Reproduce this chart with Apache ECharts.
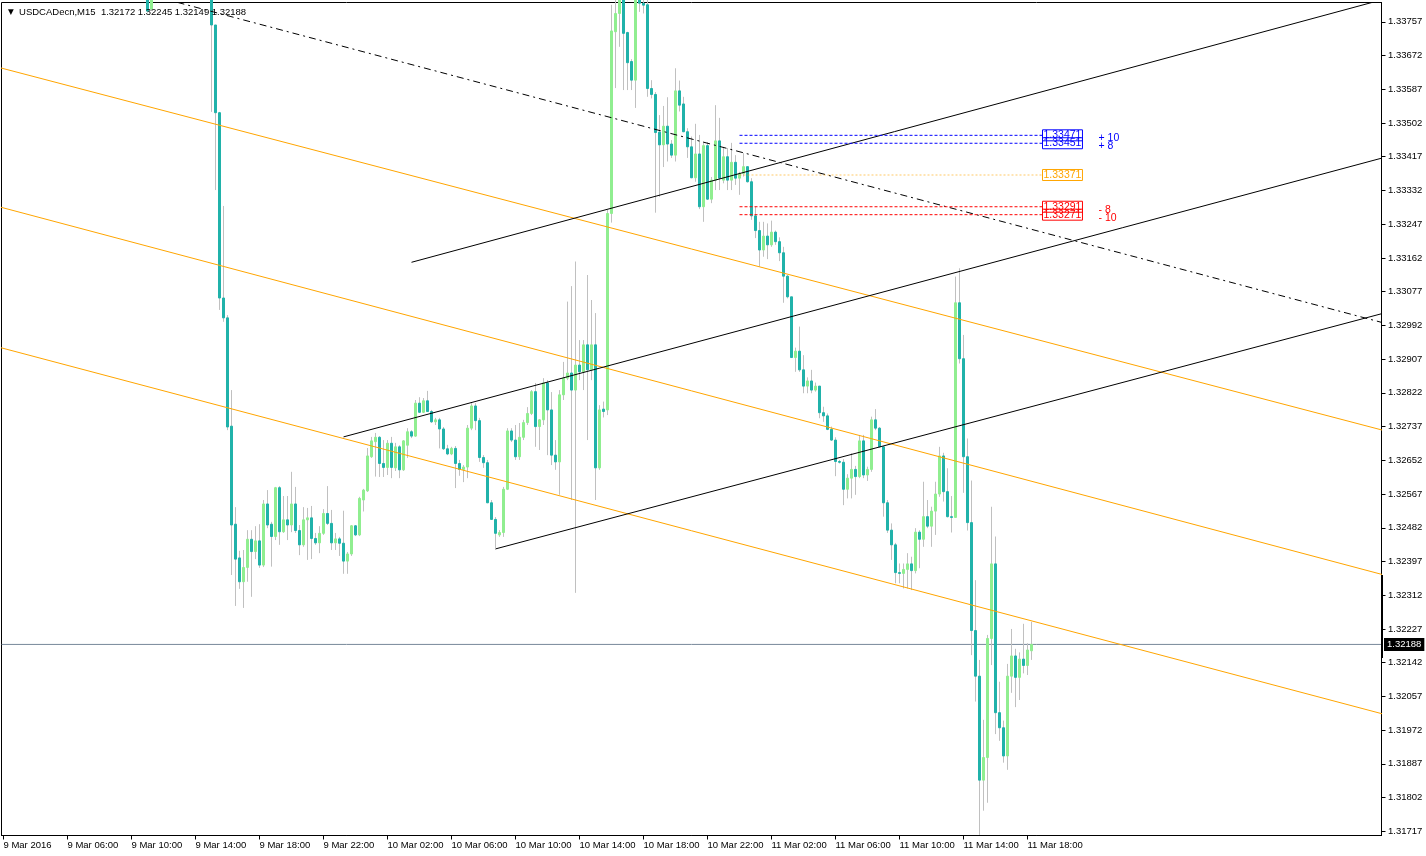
<!DOCTYPE html>
<html><head><meta charset="utf-8">
<script src="https://cdn.jsdelivr.net/npm/echarts@6/dist/echarts.min.js"></script>
<style>html,body{margin:0;padding:0;background:#fff;}#c{width:1426px;height:856px;}</style>
</head><body><div id="c"></div>
<script>
const symbol = 'USDCADecn,M15';
const slotCount = 345;          // bar slots on the time axis (incl. chart shift)
const firstBar = 36;            // index of first candle in the candles list
// [open, high, low, close]; null = bar above the visible price range
const candles = [
[1.33832,1.33845,1.33780,1.33784],[1.33789,1.33850,1.33785,1.33832],
null,null,null,null,null,null,null,null,null,null,null,null,null,null,
[1.33825,1.33840,1.33530,1.33749],[1.33749,1.33749,1.33333,1.33528],[1.33528,1.33530,1.33031,1.33061],[1.33061,1.33293,1.33001,1.33011],
[1.33011,1.33018,1.32728,1.32736],[1.32738,1.32829,1.32363,1.32489],[1.32491,1.32534,1.32285,1.32403],[1.32406,1.32424,1.32328,1.32346],
[1.32346,1.32426,1.32280,1.32382],[1.32382,1.32476,1.32346,1.32453],[1.32453,1.32476,1.32308,1.32422],[1.32422,1.32486,1.32403,1.32449],
[1.32449,1.32491,1.32381,1.32388],[1.32388,1.32552,1.32383,1.32542],[1.32542,1.32577,1.32481,1.32489],[1.32491,1.32497,1.32384,1.32460],
[1.32460,1.32585,1.32451,1.32583],[1.32583,1.32587,1.32439,1.32472],[1.32472,1.32562,1.32469,1.32502],[1.32502,1.32562,1.32451,1.32489],
[1.32489,1.32623,1.32471,1.32542],[1.32542,1.32585,1.32469,1.32475],[1.32475,1.32489,1.32413,1.32439],[1.32439,1.32534,1.32434,1.32502],
[1.32502,1.32532,1.32401,1.32507],[1.32507,1.32537,1.32403,1.32455],[1.32455,1.32469,1.32439,1.32444],[1.32444,1.32486,1.32418,1.32468],
[1.32468,1.32529,1.32464,1.32518],[1.32518,1.32587,1.32489,1.32493],[1.32493,1.32527,1.32426,1.32444],[1.32444,1.32469,1.32426,1.32454],
[1.32454,1.32459,1.32411,1.32443],[1.32443,1.32525,1.32366,1.32398],[1.32398,1.32421,1.32366,1.32416],[1.32416,1.32489,1.32411,1.32487],
[1.32487,1.32489,1.32461,1.32464],[1.32464,1.32560,1.32461,1.32556],[1.32552,1.32580,1.32523,1.32577],[1.32575,1.32683,1.32572,1.32663],
[1.32661,1.32711,1.32658,1.32701],[1.32699,1.32721,1.32611,1.32710],[1.32710,1.32713,1.32610,1.32644],[1.32644,1.32703,1.32610,1.32634],
[1.32634,1.32703,1.32615,1.32695],[1.32695,1.32711,1.32607,1.32634],[1.32633,1.32696,1.32625,1.32686],[1.32686,1.32690,1.32607,1.32628],
[1.32628,1.32703,1.32625,1.32701],[1.32690,1.32733,1.32658,1.32724],[1.32724,1.32728,1.32708,1.32713],[1.32713,1.32804,1.32711,1.32796],
[1.32796,1.32811,1.32771,1.32773],[1.32773,1.32809,1.32771,1.32802],[1.32802,1.32827,1.32774,1.32775],[1.32775,1.32779,1.32746,1.32749],
[1.32749,1.32759,1.32741,1.32754],[1.32754,1.32759,1.32682,1.32731],[1.32731,1.32736,1.32678,1.32681],[1.32681,1.32691,1.32665,1.32668],
[1.32668,1.32686,1.32665,1.32682],[1.32682,1.32688,1.32582,1.32644],[1.32644,1.32653,1.32613,1.32629],[1.32629,1.32640,1.32597,1.32635],
[1.32635,1.32741,1.32607,1.32733],[1.32733,1.32796,1.32728,1.32789],[1.32789,1.32796,1.32728,1.32752],[1.32752,1.32759,1.32648,1.32659],
[1.32659,1.32665,1.32633,1.32646],[1.32646,1.32653,1.32544,1.32545],[1.32545,1.32552,1.32502,1.32503],[1.32503,1.32509,1.32426,1.32468],
[1.32464,1.32476,1.32459,1.32470],[1.32470,1.32585,1.32459,1.32579],[1.32579,1.32733,1.32577,1.32726],[1.32726,1.32733,1.32698,1.32703],
[1.32703,1.32741,1.32653,1.32661],[1.32661,1.32746,1.32653,1.32710],[1.32710,1.32754,1.32703,1.32747],[1.32747,1.32786,1.32741,1.32770],
[1.32770,1.32829,1.32766,1.32825],[1.32825,1.32847,1.32686,1.32737],[1.32737,1.32756,1.32678,1.32754],[1.32754,1.32859,1.32741,1.32847],
[1.32847,1.32854,1.32665,1.32779],[1.32779,1.32824,1.32640,1.32665],[1.32665,1.32703,1.32628,1.32648],[1.32648,1.32829,1.32565,1.32817],
[1.32817,1.32900,1.32804,1.32859],[1.32859,1.33052,1.32854,1.32872],[1.32872,1.33091,1.32552,1.32829],[1.32829,1.33153,1.32318,1.32892],
[1.32892,1.32955,1.32854,1.32875],[1.32875,1.32955,1.32829,1.32943],[1.32943,1.33119,1.32703,1.32880],[1.32880,1.33056,1.32854,1.32943],
[1.32943,1.33023,1.32552,1.32633],[1.32633,1.32791,1.32628,1.32779],[1.32781,1.32800,1.32760,1.32775],[1.32779,1.33283,1.32766,1.33274],
[1.33274,1.33800,1.33251,1.33734],[1.33732,1.33825,1.33590,1.33778],[1.33778,1.33840,1.33694,1.33825],[1.33825,1.33840,1.33585,1.33728],
[1.33730,1.33732,1.33585,1.33654],[1.33657,1.33663,1.33585,1.33610],[1.33610,1.33845,1.33540,1.33825],[1.33825,1.33840,1.33782,1.33804],
[1.33804,1.33820,1.33778,1.33799],[1.33800,1.33815,1.33568,1.33589],[1.33589,1.33610,1.33564,1.33574],[1.33574,1.33580,1.33276,1.33478],
[1.33479,1.33522,1.33316,1.33447],[1.33447,1.33545,1.33391,1.33494],[1.33494,1.33567,1.33405,1.33449],[1.33449,1.33459,1.33414,1.33421],
[1.33421,1.33640,1.33405,1.33583],[1.33583,1.33609,1.33531,1.33547],[1.33550,1.33568,1.33479,1.33480],[1.33480,1.33489,1.33414,1.33442],
[1.33442,1.33468,1.33363,1.33364],[1.33364,1.33500,1.33354,1.33424],[1.33424,1.33472,1.33285,1.33291],[1.33291,1.33455,1.33253,1.33445],
[1.33445,1.33454,1.33308,1.33310],[1.33310,1.33366,1.33300,1.33358],[1.33358,1.33547,1.33333,1.33457],[1.33457,1.33515,1.33333,1.33363],
[1.33358,1.33442,1.33350,1.33417],[1.33417,1.33439,1.33333,1.33358],[1.33358,1.33452,1.33333,1.33403],[1.33403,1.33421,1.33346,1.33363],
[1.33363,1.33379,1.33321,1.33375],[1.33375,1.33426,1.33367,1.33392],[1.33392,1.33392,1.33352,1.33354],[1.33354,1.33363,1.33258,1.33268],
[1.33268,1.33291,1.33212,1.33231],[1.33231,1.33253,1.33140,1.33182],[1.33182,1.33253,1.33165,1.33217],[1.33217,1.33249,1.33159,1.33195],
[1.33195,1.33256,1.33190,1.33227],[1.33227,1.33231,1.33195,1.33203],[1.33203,1.33214,1.33154,1.33175],[1.33175,1.33190,1.33049,1.33116],
[1.33116,1.33119,1.33060,1.33064],[1.33064,1.33064,1.32910,1.32911],[1.32911,1.32936,1.32875,1.32927],[1.32927,1.32989,1.32875,1.32880],
[1.32880,1.32917,1.32821,1.32839],[1.32839,1.32861,1.32821,1.32852],[1.32852,1.32880,1.32821,1.32829],[1.32829,1.32848,1.32825,1.32839],
[1.32839,1.32839,1.32758,1.32772],[1.32772,1.32787,1.32749,1.32764],[1.32764,1.32770,1.32728,1.32730],[1.32730,1.32737,1.32701,1.32703],
[1.32703,1.32710,1.32612,1.32649],[1.32649,1.32653,1.32644,1.32647],[1.32647,1.32655,1.32539,1.32579],[1.32579,1.32617,1.32556,1.32607],
[1.32607,1.32670,1.32556,1.32629],[1.32629,1.32638,1.32565,1.32611],[1.32611,1.32716,1.32607,1.32701],[1.32701,1.32716,1.32607,1.32615],
[1.32615,1.32636,1.32600,1.32629],[1.32629,1.32762,1.32623,1.32754],[1.32754,1.32781,1.32728,1.32733],[1.32733,1.32736,1.32685,1.32686],
[1.32686,1.32688,1.32510,1.32545],[1.32545,1.32552,1.32469,1.32476],[1.32476,1.32493,1.32401,1.32439],[1.32439,1.32444,1.32342,1.32369],
[1.32369,1.32392,1.32342,1.32367],[1.32367,1.32392,1.32329,1.32377],[1.32377,1.32418,1.32329,1.32391],[1.32391,1.32409,1.32325,1.32374],
[1.32374,1.32481,1.32367,1.32471],[1.32471,1.32476,1.32380,1.32453],[1.32453,1.32598,1.32434,1.32510],[1.32510,1.32552,1.32481,1.32486],
[1.32486,1.32535,1.32434,1.32524],[1.32524,1.32598,1.32464,1.32567],[1.32567,1.32686,1.32560,1.32663],[1.32663,1.32671,1.32548,1.32573],
[1.32573,1.32632,1.32508,1.32510],[1.32510,1.32562,1.32470,1.32508],[1.32508,1.33115,1.32508,1.33049],[1.33049,1.33136,1.32896,1.32908],
[1.32908,1.32968,1.32570,1.32661],[1.32661,1.32707,1.32475,1.32495],[1.32495,1.32601,1.32161,1.32223],[1.32223,1.32350,1.32044,1.32108],
[1.32108,1.32149,1.31708,1.31846],[1.31846,1.31998,1.31769,1.31903],[1.31903,1.32212,1.31789,1.32203],[1.32203,1.32535,1.32136,1.32391],
[1.32391,1.32460,1.31962,1.32016],[1.32016,1.32094,1.31945,1.31978],[1.31978,1.31996,1.31890,1.31907],[1.31907,1.32139,1.31872,1.32108],
[1.32108,1.32227,1.32066,1.32159],[1.32159,1.32177,1.32030,1.32105],[1.32105,1.32168,1.32048,1.32151],[1.32151,1.32240,1.32115,1.32135],
[1.32135,1.32191,1.32111,1.32174],[1.32172,1.32245,1.32149,1.32188]
];
const timeLabels = ['9 Mar 2016','9 Mar 06:00','9 Mar 10:00','9 Mar 14:00','9 Mar 18:00','9 Mar 22:00',
  '10 Mar 02:00','10 Mar 06:00','10 Mar 10:00','10 Mar 14:00','10 Mar 18:00','10 Mar 22:00',
  '11 Mar 02:00','11 Mar 06:00','11 Mar 10:00','11 Mar 14:00','11 Mar 18:00'];
const barsPerLabel = 16;
const priceTicks = [1.33757,1.33672,1.33587,1.33502,1.33417,1.33332,1.33247,1.33162,1.33077,1.32992,
  1.32907,1.32822,1.32737,1.32652,1.32567,1.32482,1.32397,1.32312,1.32227,1.32142,1.32057,1.31972,
  1.31887,1.31802,1.31717];
const priceMin = 1.317065, priceMax = 1.338057;
const bidPrice = 1.32188;
// trend lines: [[barIndex, price], [barIndex, price]]
const orangeLines = [
  [[-0.75,1.33641],[344.75,1.32728]],
  [[-0.75,1.33290],[344.75,1.32364]],
  [[-0.75,1.32936],[344.75,1.32013]]
];
const blackLines = [
  [[102,1.33151],[344.75,1.33813]],
  [[85,1.32711],[344.75,1.33414]],
  [[123.1,1.32429],[344.75,1.33022]]
];
const dashDotLine = [[43.5,1.33806],[344.75,1.32999]];
const orderPrices = [1.33471,1.33451,1.33371,1.33291,1.33271];
const orderNotes = ['+ 10','+ 8','','- 8','- 10'];
const orderColors = ['#0000FF','#0000FF','#FFA500','#FF0000','#FF0000'];
const orderBars = [184, 259.75];
const axisMarkRange = [1.32363, 1.32154];   // dark marker on the price scale

const FONT = 'Liberation Sans, Arial, sans-serif';
const categories = Array.from({length: slotCount}, (_, i) => String(i));
const showLabel = (idx) => idx % barsPerLabel === 0 && idx / barsPerLabel < timeLabels.length;

const wickRows = [], bodyRows = [];
candles.forEach((c, k) => {
  if (!c) return;
  const i = firstBar + k;
  const [o, h, l, cl] = c;
  wickRows.push([i, o, cl, l, h]);
  bodyRows.push([i, o, cl, Math.min(o, cl), Math.max(o, cl)]);
});
const last = candles[candles.length - 1];

const lineSeries = (pts, color, type, opacity) => ({
  type: 'line', xAxisIndex: 1, yAxisIndex: 0, data: pts, symbol: 'none', silent: true, clip: true,
  lineStyle: {color, width: 1, type: type || 'solid', opacity: opacity == null ? 1 : opacity}, z: 5
});

const series = [
  {type: 'candlestick', xAxisIndex: 0, yAxisIndex: 0, data: wickRows, encode: {x: 0, y: [1,2,3,4]},
   barWidth: 1, clip: true, silent: true,
   itemStyle: {color: '#C0C0C0', color0: '#C0C0C0', borderColor: '#C0C0C0', borderColor0: '#C0C0C0', borderWidth: 1}, z: 2},
  {type: 'candlestick', xAxisIndex: 0, yAxisIndex: 0, data: bodyRows, encode: {x: 0, y: [1,2,3,4]},
   barWidth: 2, clip: true, silent: true,
   itemStyle: {color: '#90EE90', color0: '#20B2AA', borderColor: '#90EE90', borderColor0: '#20B2AA', borderWidth: 1}, z: 3}
];
orangeLines.forEach(l => series.push(lineSeries(l, '#FFA500')));
blackLines.forEach(l => series.push(lineSeries(l, '#000000')));
series.push(lineSeries(dashDotLine, '#000000', [7,4,2,4]));
// bid line
const bidSeries = lineSeries([[-0.5, bidPrice],[slotCount - 0.5, bidPrice]], '#778899');
bidSeries.z = 1;
bidSeries.endLabel = {show: true, distance: 2.5, formatter: () => bidPrice.toFixed(5),
  backgroundColor: '#000', color: '#fff', padding: [2,3,1,3], fontSize: 9.5, fontFamily: FONT};
series.push(bidSeries);
// marker on the price scale
const markSeries = lineSeries([[slotCount - 0.25, axisMarkRange[0]],[slotCount - 0.25, axisMarkRange[1]]], '#000000');
markSeries.clip = false;
markSeries.lineStyle.width = 3;
markSeries.z = 7;
series.push(markSeries);
// order levels
orderPrices.forEach((p, k) => {
  const col = orderColors[k];
  const s = lineSeries([[orderBars[0], p],[orderBars[1], p]], col, k === 2 ? [2,2] : [3,2], k === 2 ? 0.6 : 1);
  s.z = 6;
  s.endLabel = {show: true, distance: 0, formatter: () => p.toFixed(5),
    color: col, borderColor: col, borderWidth: 1, padding: [1,1,0,1], fontSize: 10.5, lineHeight: 10, fontFamily: FONT};
  series.push(s);
  if (orderNotes[k]) {
    const n = lineSeries([[orderBars[0], p],[orderBars[1], p]], col, 'solid', 0);
    n.z = 6;
    n.endLabel = {show: true, distance: 0, offset: [56, 3], formatter: () => orderNotes[k],
      color: col, fontSize: 10.5, fontFamily: FONT};
    series.push(n);
  }
});

const chart = echarts.init(document.getElementById('c'), null, {renderer: 'canvas'});
chart.setOption({
  animation: false,
  backgroundColor: '#ffffff',
  textStyle: {fontFamily: FONT},
  title: {
    text: '{t|▼}  ' + symbol + '  ' + last.map(v => v.toFixed(5)).join(' '),
    left: 3, top: 2,
    textStyle: {fontSize: 9.5, fontWeight: 'normal', color: '#000', fontFamily: FONT,
      rich: {t: {fontSize: 7.5, color: '#000', fontFamily: 'DejaVu Sans'}}}
  },
  grid: {left: 1.5, top: 2.5, width: slotCount * 4, height: 833, containLabel: false,
    show: true, borderColor: '#000', borderWidth: 1, backgroundColor: 'transparent'},
  xAxis: [
    {type: 'category', data: categories, boundaryGap: true, position: 'bottom',
     axisLine: {show: true, onZero: false, lineStyle: {color: '#000', width: 1}},
     axisTick: {show: true, alignWithLabel: true, interval: (i) => showLabel(i), length: 4, lineStyle: {color: '#000'}},
     axisLabel: {show: true, interval: (i) => showLabel(i), formatter: (v, i) => timeLabels[i / barsPerLabel] || '',
       align: 'left', margin: 5, fontSize: 9.5, color: '#000', fontFamily: FONT},
     splitLine: {show: false}},
    {type: 'value', min: -0.5, max: slotCount - 0.5, show: false}
  ],
  yAxis: [
    {type: 'value', position: 'right', min: priceMin, max: priceMax, scale: true,
     axisLine: {show: true, onZero: false, lineStyle: {color: '#000'}},
     axisTick: {show: true, length: 4, customValues: priceTicks, lineStyle: {color: '#000'}},
     axisLabel: {show: true, customValues: priceTicks, formatter: (v) => v.toFixed(5), margin: 6.5,
       fontSize: 9.5, color: '#000', fontFamily: FONT},
     splitLine: {show: false}}
  ],
  series
});
</script></body></html>
